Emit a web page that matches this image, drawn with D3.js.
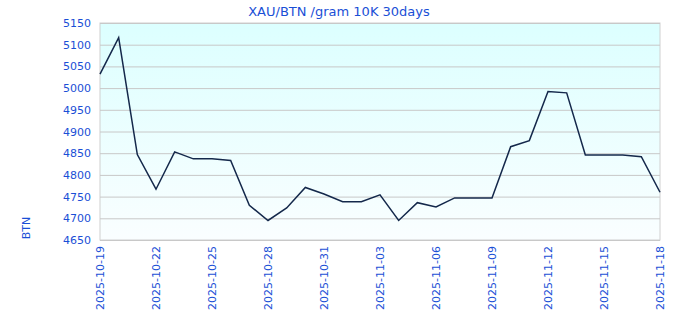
<!DOCTYPE html>
<html>
<head>
<meta charset="utf-8">
<script src="https://cdn.jsdelivr.net/npm/d3@7"></script>
<style>
  body { margin: 0; background: #fff; }
  text { font-family: "DejaVu Sans", sans-serif; fill: #1a4fd6; }
</style>
</head>
<body>
<svg width="680" height="320"></svg>
<script>
const dates = ["2025-10-19","2025-10-20","2025-10-21","2025-10-22","2025-10-23","2025-10-24","2025-10-25",
  "2025-10-26","2025-10-27","2025-10-28","2025-10-29","2025-10-30","2025-10-31","2025-11-01","2025-11-02",
  "2025-11-03","2025-11-04","2025-11-05","2025-11-06","2025-11-07","2025-11-08","2025-11-09","2025-11-10",
  "2025-11-11","2025-11-12","2025-11-13","2025-11-14","2025-11-15","2025-11-16","2025-11-17","2025-11-18"];
const prices = [5032, 5116, 4847, 4767, 4853, 4837, 4837, 4833, 4730, 4695, 4724, 4771, 4756, 4738, 4738,
  4754, 4695, 4736, 4726, 4747, 4747, 4747, 4865, 4879, 4992, 4989, 4846, 4846, 4846, 4842, 4760];
const yTicks = [4650, 4700, 4750, 4800, 4850, 4900, 4950, 5000, 5050, 5100, 5150];
const xTicks = ["2025-10-19","2025-10-22","2025-10-25","2025-10-28","2025-10-31","2025-11-03",
  "2025-11-06","2025-11-09","2025-11-12","2025-11-15","2025-11-18"];

const svg = d3.select("svg");
const margin = {left: 100, right: 20, top: 23, bottom: 80};
const width = 680 - margin.left - margin.right;
const height = 320 - margin.top - margin.bottom;

const parse = d3.timeParse("%Y-%m-%d");
const data = dates.map((d, i) => ({date: parse(d), value: prices[i]}));

const x = d3.scaleTime()
    .domain([parse(dates[0]), parse(dates[dates.length - 1])])
    .range([0, width]);
const y = d3.scaleLinear().domain([4650, 5150]).range([height, 0]);

const defs = svg.append("defs");
const grad = defs.append("linearGradient")
    .attr("id", "bg").attr("x1", 0).attr("y1", 0).attr("x2", 0).attr("y2", 1);
grad.append("stop").attr("offset", "0%").attr("stop-color", "#dcffff");
grad.append("stop").attr("offset", "100%").attr("stop-color", "#fafeff");

const g = svg.append("g")
    .attr("transform", "translate(" + margin.left + "," + margin.top + ")");

g.append("rect")
    .attr("width", width).attr("height", height)
    .attr("fill", "url(#bg)")
    .attr("stroke", "#d0d0d0");

// grid
g.selectAll(".grid")
    .data(yTicks)
    .enter().append("line")
    .attr("x1", 0).attr("x2", width)
    .attr("y1", d => y(d) + 0.5).attr("y2", d => y(d) + 0.5)
    .attr("stroke", "#c8c8c8");

// y axis labels
g.append("g")
    .call(d3.axisLeft(y).tickValues(yTicks).tickSize(0).tickPadding(9).tickFormat(d3.format("d")))
    .call(a => a.select(".domain").remove())
    .selectAll("text")
    .style("font-size", "11px");

// x axis labels
g.append("g")
    .attr("transform", "translate(0," + height + ")")
    .call(d3.axisBottom(x).tickValues(xTicks.map(parse)).tickSize(0).tickFormat(d3.timeFormat("%Y-%m-%d")))
    .call(a => a.select(".domain").remove())
    .selectAll("text")
    .style("font-size", "11px")
    .attr("transform", "rotate(-90)")
    .attr("text-anchor", "end")
    .attr("x", -6)
    .attr("y", 0)
    .attr("dy", "0.35em");

const line = d3.line()
    .x(d => x(d.date))
    .y(d => y(d.value));

g.append("path")
    .datum(data)
    .attr("d", line)
    .attr("fill", "none")
    .attr("stroke", "#14284b")
    .attr("stroke-width", 1.5);

svg.append("text")
    .attr("x", 339).attr("y", 16)
    .attr("text-anchor", "middle")
    .style("font-size", "13px")
    .text("XAU/BTN /gram 10K 30days");

svg.append("text")
    .attr("transform", "translate(30,228) rotate(-90)")
    .attr("text-anchor", "middle")
    .style("font-size", "11px")
    .text("BTN");
</script>
</body>
</html>
